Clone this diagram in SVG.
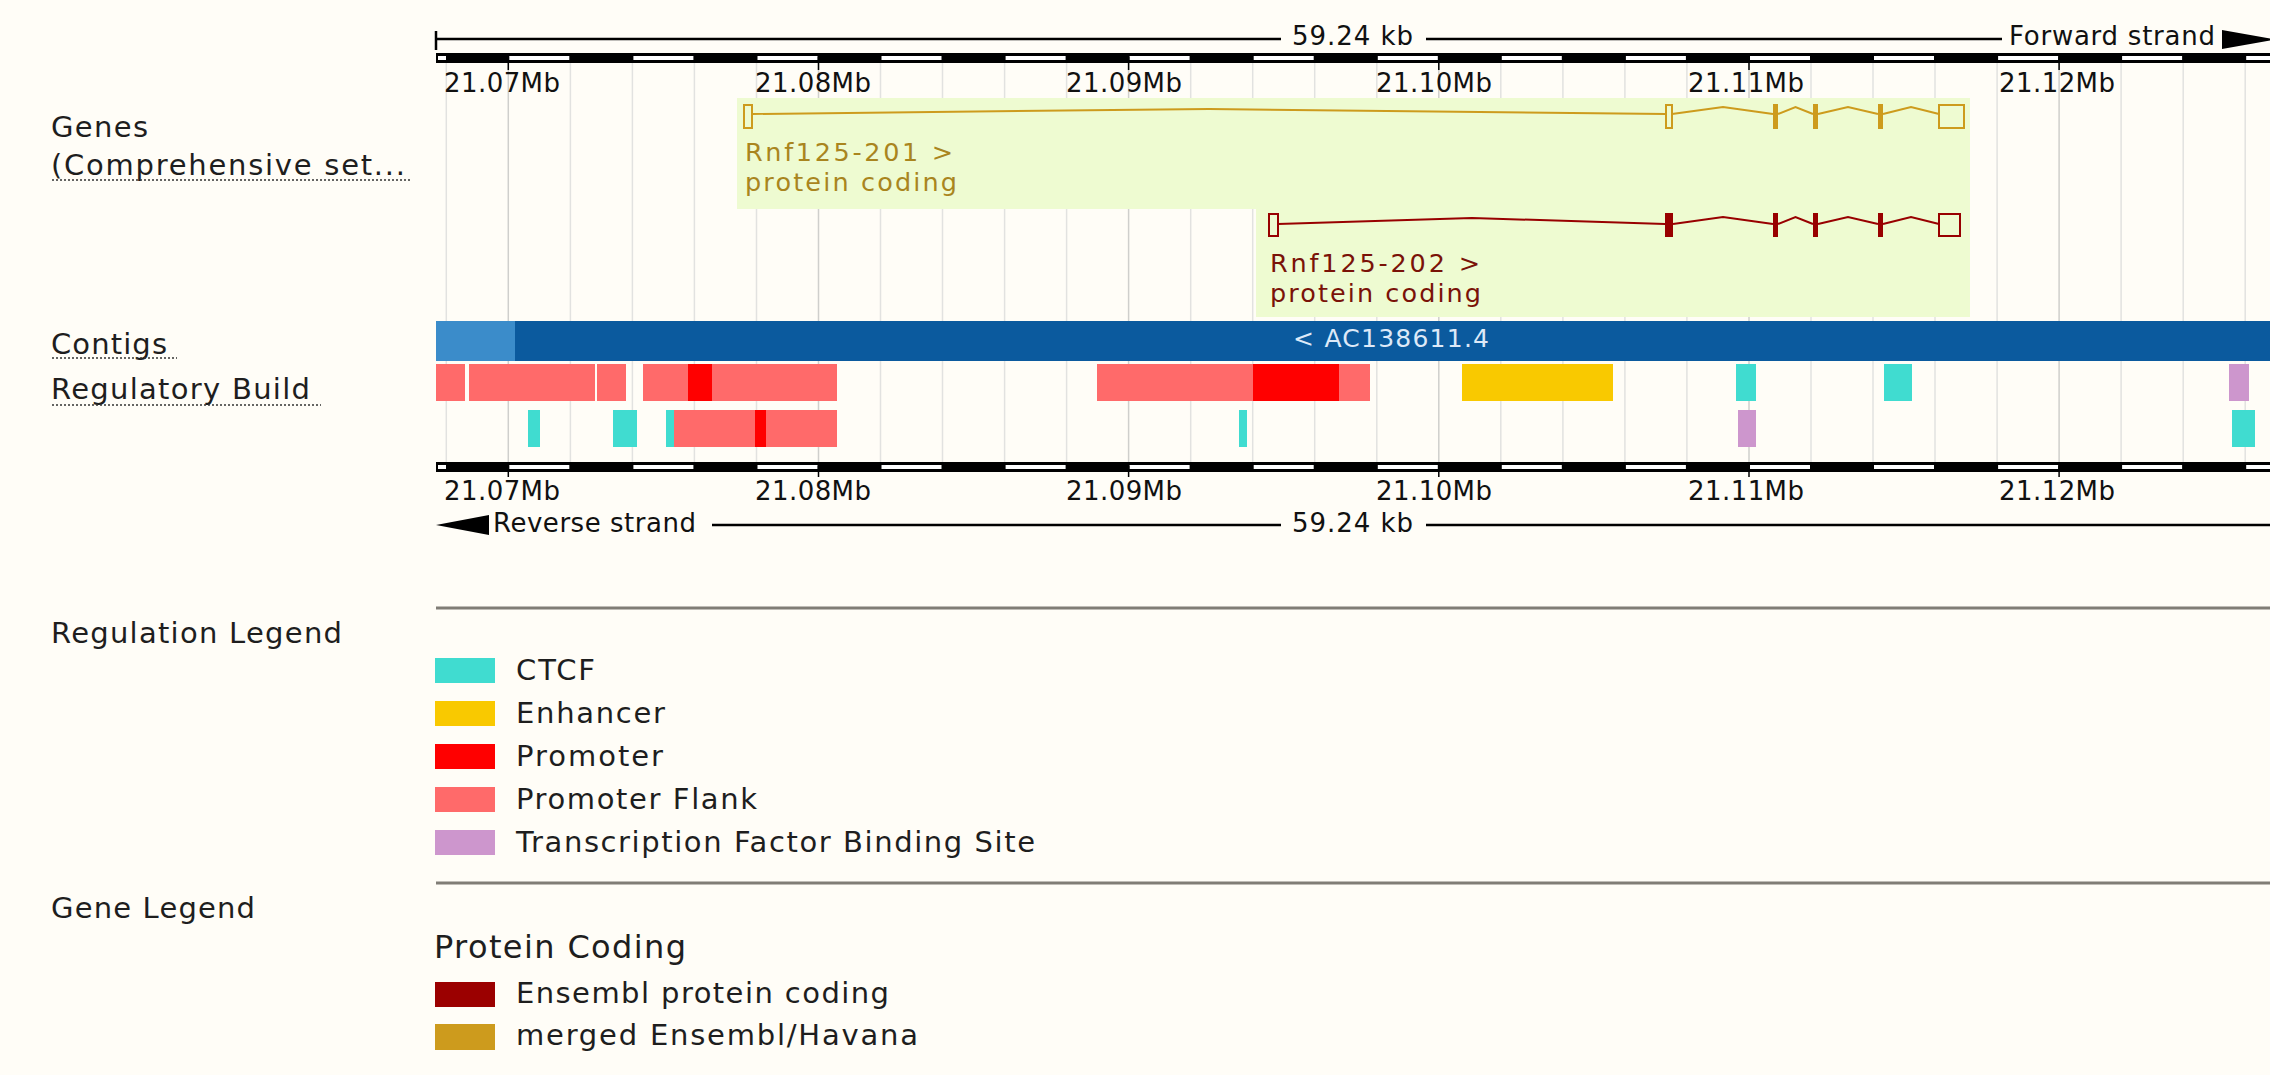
<svg xmlns="http://www.w3.org/2000/svg" width="2270" height="1075" viewBox="0 0 2270 1075">
<defs>
<style>
text{font-family:"DejaVu Sans","Liberation Sans",sans-serif}
.lbl{font-size:29px;fill:#1e1e1e}
.rul{font-size:26px;fill:#111}
.leg{font-size:29px;fill:#1e1e1e}
.glbl{font-size:25.5px}
.grid{stroke:#e2e2e0;stroke-width:1.5}
.gridM{stroke:#cfcfcc;stroke-width:1.5}
.dot{stroke:#333;stroke-width:1.5;stroke-dasharray:2 2}
.band{fill:#000}
.wseg{fill:#fff}
.flank{fill:#ff6a6a}
.prom{fill:#ff0000}
.enh{fill:#f9c900}
.ctcf{fill:#40dcd0}
.tfbs{fill:#cd96cd}
.t201{stroke:#cd9b1d;stroke-width:2;fill:none}
.t202{stroke:#980000;stroke-width:2;fill:none}
.sep{stroke:#807d76;stroke-width:3}
</style>
</defs>
<rect x="0" y="0" width="2270" height="1075" fill="#fffdf7"/>

<g id="track-labels">
<text class="lbl" x="51" y="137" textLength="97">Genes</text>
<text class="lbl" x="51" y="175" textLength="354">(Comprehensive set...</text>
<line class="dot" x1="52" y1="180" x2="410" y2="180"/>
<text class="lbl" x="51" y="354" textLength="116">Contigs</text>
<line class="dot" x1="52" y1="358" x2="177" y2="358"/>
<text class="lbl" x="51" y="399" textLength="259">Regulatory Build</text>
<line class="dot" x1="52" y1="405" x2="321" y2="405"/>
</g>

<g id="gridlines">
<line class="grid" x1="446.3" y1="63" x2="446.3" y2="462"/>
<line class="gridM" x1="508.3" y1="63" x2="508.3" y2="462"/>
<line class="grid" x1="570.4" y1="63" x2="570.4" y2="462"/>
<line class="grid" x1="632.4" y1="63" x2="632.4" y2="462"/>
<line class="grid" x1="694.4" y1="63" x2="694.4" y2="462"/>
<line class="grid" x1="756.5" y1="63" x2="756.5" y2="462"/>
<line class="gridM" x1="818.5" y1="63" x2="818.5" y2="462"/>
<line class="grid" x1="880.5" y1="63" x2="880.5" y2="462"/>
<line class="grid" x1="942.5" y1="63" x2="942.5" y2="462"/>
<line class="grid" x1="1004.6" y1="63" x2="1004.6" y2="462"/>
<line class="grid" x1="1066.6" y1="63" x2="1066.6" y2="462"/>
<line class="gridM" x1="1128.6" y1="63" x2="1128.6" y2="462"/>
<line class="grid" x1="1190.7" y1="63" x2="1190.7" y2="462"/>
<line class="grid" x1="1252.7" y1="63" x2="1252.7" y2="462"/>
<line class="grid" x1="1314.7" y1="63" x2="1314.7" y2="462"/>
<line class="grid" x1="1376.8" y1="63" x2="1376.8" y2="462"/>
<line class="gridM" x1="1438.8" y1="63" x2="1438.8" y2="462"/>
<line class="grid" x1="1500.8" y1="63" x2="1500.8" y2="462"/>
<line class="grid" x1="1562.9" y1="63" x2="1562.9" y2="462"/>
<line class="grid" x1="1624.9" y1="63" x2="1624.9" y2="462"/>
<line class="grid" x1="1686.9" y1="63" x2="1686.9" y2="462"/>
<line class="gridM" x1="1749" y1="63" x2="1749" y2="462"/>
<line class="grid" x1="1811" y1="63" x2="1811" y2="462"/>
<line class="grid" x1="1873" y1="63" x2="1873" y2="462"/>
<line class="grid" x1="1935" y1="63" x2="1935" y2="462"/>
<line class="grid" x1="1997.1" y1="63" x2="1997.1" y2="462"/>
<line class="gridM" x1="2059.1" y1="63" x2="2059.1" y2="462"/>
<line class="grid" x1="2121.1" y1="63" x2="2121.1" y2="462"/>
<line class="grid" x1="2183.2" y1="63" x2="2183.2" y2="462"/>
<line class="grid" x1="2245.2" y1="63" x2="2245.2" y2="462"/>
</g>

<g id="ruler-top">
<line x1="436" y1="39" x2="1281" y2="39" stroke="#000" stroke-width="2.5"/>
<line x1="1426" y1="39" x2="2002" y2="39" stroke="#000" stroke-width="2.5"/>
<line x1="436" y1="31" x2="436" y2="50" stroke="#000" stroke-width="2.5"/>
<text class="rul" x="1292" y="45" textLength="121">59.24 kb</text>
<text class="rul" x="2009" y="45" textLength="206">Forward strand</text>
<polygon points="2222,30 2222,49 2275,39.5" fill="#000"/>
<rect class="band" x="436" y="53" width="1834" height="10"/>
<g class="wseg">
<rect x="438" y="56" width="8" height="4"/>
<rect x="509.3" y="56" width="60" height="4"/>
<rect x="633.4" y="56" width="60" height="4"/>
<rect x="757.5" y="56" width="60" height="4"/>
<rect x="881.5" y="56" width="60" height="4"/>
<rect x="1005.6" y="56" width="60" height="4"/>
<rect x="1129.6" y="56" width="60" height="4"/>
<rect x="1253.7" y="56" width="60" height="4"/>
<rect x="1377.8" y="56" width="60" height="4"/>
<rect x="1501.8" y="56" width="60" height="4"/>
<rect x="1625.9" y="56" width="60" height="4"/>
<rect x="1750" y="56" width="60" height="4"/>
<rect x="1874" y="56" width="60" height="4"/>
<rect x="1998.1" y="56" width="60" height="4"/>
<rect x="2122.1" y="56" width="60" height="4"/>
<rect x="2246.2" y="56" width="24" height="4"/>
</g>
<g stroke="#000" stroke-width="1.5">
<line x1="508.3" y1="57" x2="508.3" y2="70"/>
<line x1="818.5" y1="57" x2="818.5" y2="70"/>
<line x1="1128.6" y1="57" x2="1128.6" y2="70"/>
<line x1="1438.8" y1="57" x2="1438.8" y2="70"/>
<line x1="1749" y1="57" x2="1749" y2="70"/>
<line x1="2059.1" y1="57" x2="2059.1" y2="70"/>
</g>
<text class="rul" x="444" y="92" textLength="116">21.07Mb</text>
<text class="rul" x="755" y="92" textLength="116">21.08Mb</text>
<text class="rul" x="1066" y="92" textLength="116">21.09Mb</text>
<text class="rul" x="1376" y="92" textLength="116">21.10Mb</text>
<text class="rul" x="1688" y="92" textLength="116">21.11Mb</text>
<text class="rul" x="1999" y="92" textLength="116">21.12Mb</text>
</g>

<g id="genes">
<path d="M737,98 H1970 V317 H1256 V209 H737 Z" fill="#eefbd1"/>
<g id="Rnf125-201">
<rect class="t201" x="744" y="105" width="8" height="23" fill="none"/>
<rect class="t201" x="1666" y="105" width="6" height="23"/>
<rect x="1773" y="104" width="5" height="25" fill="#cd9b1d"/>
<rect x="1813" y="104" width="5" height="25" fill="#cd9b1d"/>
<rect x="1878" y="104" width="5" height="25" fill="#cd9b1d"/>
<rect class="t201" x="1939" y="105" width="25" height="23"/>
<text class="glbl" x="745" y="161" fill="#a9851e" textLength="208">Rnf125-201 &gt;</text>
<text class="glbl" x="745" y="191" fill="#a9851e" textLength="212">protein coding</text>
</g>
<g id="Rnf125-202">
<rect class="t202" x="1269" y="214" width="9" height="22"/>
<rect x="1665" y="213" width="8" height="24" fill="#980000"/>
<rect x="1773" y="213" width="5" height="24" fill="#980000"/>
<rect x="1813" y="213" width="5" height="24" fill="#980000"/>
<rect x="1878" y="213" width="5" height="24" fill="#980000"/>
<rect class="t202" x="1939" y="214" width="21" height="22"/>
<text class="glbl" x="1270" y="272" fill="#7a1208" textLength="210">Rnf125-202 &gt;</text>
<text class="glbl" x="1270" y="302" fill="#7a1208" textLength="211">protein coding</text>
</g>
</g>

<g id="connectors">
<path class="t201" d="M752,114 L1209,109 L1666,114 M1672,114 L1723,107 L1773,114 M1778,114 L1795.5,107 L1813,114 M1818,114 L1848,107 L1878,114 M1883,114 L1911,107 L1939,114"/>
<path class="t202" d="M1278,224 L1472,218 L1665,224 M1673,224 L1723,217 L1773,224 M1778,224 L1795.5,217 L1813,224 M1818,224 L1848,217 L1878,224 M1883,224 L1911,217 L1939,224"/>
</g>

<g id="contigs">
<rect x="436" y="321" width="80" height="40" fill="#3b8cca"/>
<rect x="515" y="321" width="1755" height="40" fill="#0b5a9e"/>
<text x="1293" y="347" font-size="25" fill="#dde9f8" textLength="196">&lt; AC138611.4</text>
</g>

<g id="regulatory">
<rect class="flank" x="436" y="364" width="29" height="37"/>
<rect class="flank" x="469" y="364" width="126" height="37"/>
<rect class="flank" x="597" y="364" width="29" height="37"/>
<rect class="flank" x="643" y="364" width="194" height="37"/>
<rect class="prom" x="688" y="364" width="24" height="37"/>
<rect class="flank" x="1097" y="364" width="273" height="37"/>
<rect class="prom" x="1253" y="364" width="86" height="37"/>
<rect class="enh" x="1462" y="364" width="151" height="37"/>
<rect class="ctcf" x="1736" y="364" width="20" height="37"/>
<rect class="ctcf" x="1884" y="364" width="28" height="37"/>
<rect class="tfbs" x="2229" y="364" width="20" height="37"/>
<rect class="ctcf" x="528" y="410" width="12" height="37"/>
<rect class="ctcf" x="613" y="410" width="24" height="37"/>
<rect class="ctcf" x="666" y="410" width="8" height="37"/>
<rect class="flank" x="674" y="410" width="163" height="37"/>
<rect class="prom" x="755" y="410" width="11" height="37"/>
<rect class="ctcf" x="1239" y="410" width="8" height="37"/>
<rect class="tfbs" x="1738" y="410" width="18" height="37"/>
<rect class="ctcf" x="2232" y="410" width="23" height="37"/>
</g>

<g id="ruler-bottom">
<rect class="band" x="436" y="462" width="1834" height="10"/>
<g class="wseg">
<rect x="438" y="465" width="8" height="4"/>
<rect x="509.3" y="465" width="60" height="4"/>
<rect x="633.4" y="465" width="60" height="4"/>
<rect x="757.5" y="465" width="60" height="4"/>
<rect x="881.5" y="465" width="60" height="4"/>
<rect x="1005.6" y="465" width="60" height="4"/>
<rect x="1129.6" y="465" width="60" height="4"/>
<rect x="1253.7" y="465" width="60" height="4"/>
<rect x="1377.8" y="465" width="60" height="4"/>
<rect x="1501.8" y="465" width="60" height="4"/>
<rect x="1625.9" y="465" width="60" height="4"/>
<rect x="1750" y="465" width="60" height="4"/>
<rect x="1874" y="465" width="60" height="4"/>
<rect x="1998.1" y="465" width="60" height="4"/>
<rect x="2122.1" y="465" width="60" height="4"/>
<rect x="2246.2" y="465" width="24" height="4"/>
</g>
<g stroke="#000" stroke-width="1.5">
<line x1="508.3" y1="466" x2="508.3" y2="477"/>
<line x1="818.5" y1="466" x2="818.5" y2="477"/>
<line x1="1128.6" y1="466" x2="1128.6" y2="477"/>
<line x1="1438.8" y1="466" x2="1438.8" y2="477"/>
<line x1="1749" y1="466" x2="1749" y2="477"/>
<line x1="2059.1" y1="466" x2="2059.1" y2="477"/>
</g>
<text class="rul" x="444" y="500" textLength="116">21.07Mb</text>
<text class="rul" x="755" y="500" textLength="116">21.08Mb</text>
<text class="rul" x="1066" y="500" textLength="116">21.09Mb</text>
<text class="rul" x="1376" y="500" textLength="116">21.10Mb</text>
<text class="rul" x="1688" y="500" textLength="116">21.11Mb</text>
<text class="rul" x="1999" y="500" textLength="116">21.12Mb</text>
<polygon points="436,525 489,515 489,535" fill="#000"/>
<text class="rul" x="493" y="532" textLength="203">Reverse strand</text>
<line x1="712" y1="525" x2="1281" y2="525" stroke="#000" stroke-width="2.5"/>
<text class="rul" x="1292" y="532" textLength="121">59.24 kb</text>
<line x1="1426" y1="525" x2="2270" y2="525" stroke="#000" stroke-width="2.5"/>
</g>

<g id="legend-regulation">
<line class="sep" x1="436" y1="608" x2="2270" y2="608"/>
<text class="lbl" x="51" y="643" textLength="291">Regulation Legend</text>
<rect class="ctcf" x="435" y="658" width="60" height="25"/>
<text class="leg" x="516" y="680" textLength="79">CTCF</text>
<rect class="enh" x="435" y="701" width="60" height="25"/>
<text class="leg" x="516" y="723" textLength="149">Enhancer</text>
<rect class="prom" x="435" y="744" width="60" height="25"/>
<text class="leg" x="516" y="766" textLength="147">Promoter</text>
<rect class="flank" x="435" y="787" width="60" height="25"/>
<text class="leg" x="516" y="809" textLength="241">Promoter Flank</text>
<rect class="tfbs" x="435" y="830" width="60" height="25"/>
<text class="leg" x="516" y="852" textLength="519">Transcription Factor Binding Site</text>
</g>

<g id="legend-genes">
<line class="sep" x1="436" y1="883" x2="2270" y2="883"/>
<text class="lbl" x="51" y="918" textLength="204">Gene Legend</text>
<text x="434" y="958" font-size="32" fill="#1e1e1e" textLength="252">Protein Coding</text>
<rect x="435" y="982" width="60" height="25" fill="#9b0000"/>
<text class="leg" x="516" y="1003" textLength="373">Ensembl protein coding</text>
<rect x="435" y="1024" width="60" height="26" fill="#cd9b1d"/>
<text class="leg" x="516" y="1045" textLength="402">merged Ensembl/Havana</text>
</g>
</svg>
